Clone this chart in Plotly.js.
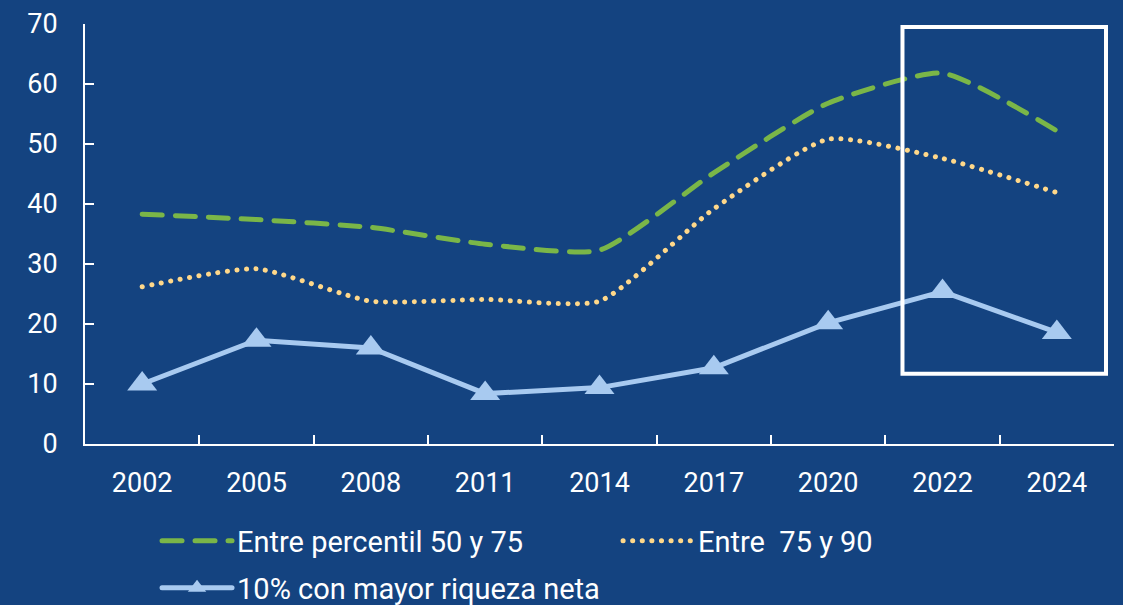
<!DOCTYPE html>
<html>
<head>
<meta charset="utf-8">
<script src="https://cdn.plot.ly/plotly-3.0.1.min.js"></script>
<style>
html,body{margin:0;padding:0;background:#144380;}
#chart{width:1123px;height:605px;}
.scatterlayer .js-line, .legendlines path{stroke-linecap:round;}
</style>
</head>
<body>
<div id="chart"></div>
<script>
const years = ["2002","2005","2008","2011","2014","2017","2020","2022","2024"];
const p50_75 = [38.3, 37.4, 36.1, 33.3, 32.3, 45.2, 56.8, 61.8, 52.2];
const p75_90 = [26.2, 29.2, 23.8, 24.1, 23.8, 39.2, 50.8, 47.6, 41.9];
const top10 = [10.0, 17.3, 16.0, 8.4, 9.4, 12.7, 20.2, 25.4, 18.6];
const names = ["Entre percentil 50 y 75", "Entre  75 y 90", "10% con mayor riqueza neta"];

const bg = "#144380";
const font = {family: "Roboto", size: 27, color: "#ffffff"};
const legFont = {family: "Roboto", size: 29, color: "#ffffff"};

const traces = [
  {x: years, y: p50_75, name: names[0], type: "scatter", mode: "lines", legend: "legend",
   line: {color: "#7AB648", width: 5, dash: "20px,13px", shape: "spline", smoothing: 0.55}},
  {x: years, y: p75_90, name: names[1], type: "scatter", mode: "lines", legend: "legend",
   line: {color: "#FFD88A", width: 5, dash: "0.1px,9.5px", shape: "spline", smoothing: 0.55}},
  {x: years, y: top10, name: names[2], type: "scatter", mode: "lines+markers", legend: "legend2",
   line: {color: "#A8CAF0", width: 5},
   marker: {symbol: "triangle-up", size: 26, color: "#A8CAF0"}}
];

const legBase = {orientation: "h", x: 0.07, xanchor: "left", yanchor: "top",
  entrywidth: 376, itemwidth: 70, font: legFont, bgcolor: "rgba(0,0,0,0)", tracegroupgap: 0};

const layout = {
  width: 1123, height: 605,
  paper_bgcolor: bg, plot_bgcolor: bg,
  font: font,
  margin: {l: 85, r: 9, t: 24, b: 161, autoexpand: false},
  showlegend: true,
  legend: Object.assign({}, legBase, {y: -0.17}),
  legend2: Object.assign({}, legBase, {y: -0.282}),
  xaxis: {type: "category", range: [-0.5, 8.5], showline: true, linecolor: "#ffffff", linewidth: 2,
          ticks: "inside", tickson: "boundaries", ticklen: 9, tickwidth: 2, tickcolor: "#ffffff",
          showgrid: false, zeroline: false, tickfont: font, ticklabelstandoff: 14, fixedrange: true},
  yaxis: {range: [0, 70], dtick: 10, showline: true, linecolor: "#ffffff", linewidth: 2,
          ticks: "inside", ticklen: 9, tickwidth: 2, tickcolor: "#ffffff",
          showgrid: false, zeroline: false, tickfont: font, ticklabelstandoff: 20, fixedrange: true},
  shapes: [
    {type: "rect", xref: "x", yref: "y", x0: 6.65, x1: 8.43, y0: 11.7, y1: 69.5,
     line: {color: "#ffffff", width: 4}, fillcolor: "rgba(0,0,0,0)"}
  ]
};

Plotly.newPlot("chart", traces, layout, {displayModeBar: false, staticPlot: true});
</script>
</body>
</html>
